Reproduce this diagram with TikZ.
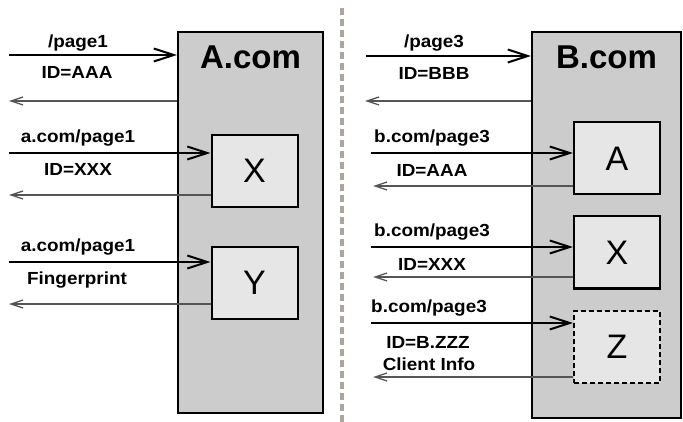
\documentclass[tikz,border=0pt]{standalone}
\usepackage{fontspec}
\setmainfont{Liberation Sans}
\usetikzlibrary{arrows.meta}
\definecolor{sitegray}{RGB}{204,204,204}
\definecolor{subgray}{RGB}{230,230,230}
\definecolor{respgray}{RGB}{85,85,85}
\definecolor{sepgray}{RGB}{172,166,158}
\newcommand{\lbltext}[1]{\scalebox{1.08}[1]{#1}}
\begin{document}
\begin{tikzpicture}[x=1pt,y=-1pt,
  site/.style={draw=black, line width=2pt, fill=sitegray, inner sep=0pt},
  sub/.style={draw=black, line width=2pt, fill=subgray, inner sep=0pt, minimum width=86pt, minimum height=72pt, font=\fontsize{34}{34}\selectfont},
  title/.style={font=\bfseries\fontsize{33}{33}\selectfont, inner sep=0pt},
  req/.style={line width=2pt, -{Straight Barb[length=20pt,width=13pt,line width=2pt]}},
  resp/.style={line width=1.3pt, draw=respgray, -{Straight Barb[length=12pt,width=8pt,line width=1.3pt]}},
  lbl/.style={font=\bfseries\fontsize{17.5}{17.5}\selectfont, inner sep=0pt},
  sepline/.style={draw=sepgray, line width=3.5pt, dash pattern=on 7pt off 4pt}
]
\useasboundingbox (0,0) rectangle (683,422);
% separator
\coordinate (septop) at (342,8);
\coordinate (sepbot) at (342,422);
\draw[sepline] (septop) -- (sepbot);

% ---------------- left: A.com ----------------
\node[site, minimum width=145pt, minimum height=381pt] (asite) at (250.5,222.5) {};
\node[title] (atitle) at (250.5,57) {A.com};
\node[sub] (ax) at (254.5,171) {X};
\node[sub] (ay) at (254.5,283) {Y};

\coordinate (l1) at (9,55);
\coordinate (l2) at (9,101);
\coordinate (l3) at (9,153);
\coordinate (l4) at (9,195);
\coordinate (l5) at (9,262);
\coordinate (l6) at (9,304);
\draw[req] (l1) -- (l1 -| asite.west);
\draw[resp] (l2 -| asite.west) -- (l2);
\draw[req] (l3) -- (l3 -| ax.west);
\draw[resp] (l4 -| ax.west) -- (l4);
\draw[req] (l5) -- (l5 -| ay.west);
\draw[resp] (l6 -| ay.west) -- (l6);

\node[lbl] (lt1) at (78,43) {\lbltext{/page1}};
\node[lbl] (lt2) at (77,72.5) {\lbltext{ID=AAA}};
\node[lbl] (lt3) at (78,138) {\lbltext{a.com/page1}};
\node[lbl] (lt4) at (78,169) {\lbltext{ID=XXX}};
\node[lbl] (lt5) at (78,247) {\lbltext{a.com/page1}};
\node[lbl] (lt6) at (77,280) {\lbltext{Fingerprint}};

% ---------------- right: B.com ----------------
\node[site, minimum width=149pt, minimum height=386pt] (bsite) at (606.5,225) {};
\node[title] (btitle) at (606.5,57) {B.com};
\node[sub] (ba) at (617,158.5) {A};
\node[sub] (bx) at (617,252.5) {X};
\node[sub, dashed, dash pattern=on 5pt off 3pt] (bz) at (617,346.5) {Z};

\coordinate (r1) at (366,56);
\coordinate (r2) at (365,101);
\coordinate (r3) at (371,153);
\coordinate (r4) at (373,186);
\coordinate (r5) at (371,247);
\coordinate (r6) at (373,277);
\coordinate (r7) at (371,323);
\coordinate (r8) at (373,377);
\draw[req] (r1) -- (r1 -| bsite.west);
\draw[resp] (r2 -| bsite.west) -- (r2);
\draw[req] (r3) -- (r3 -| ba.west);
\draw[resp] (r4 -| ba.west) -- (r4);
\draw[req] (r5) -- (r5 -| bx.west);
\draw[resp] (r6 -| bx.west) -- (r6);
\draw[req] (r7) -- (r7 -| bz.west);
\draw[resp] (r8 -| bz.west) -- (r8);

\node[lbl] (rt1) at (434,43) {\lbltext{/page3}};
\node[lbl] (rt2) at (434,73) {\lbltext{ID=BBB}};
\node[lbl] (rt3) at (432,138) {\lbltext{b.com/page3}};
\node[lbl] (rt4) at (432,170) {\lbltext{ID=AAA}};
\node[lbl] (rt5) at (432,232) {\lbltext{b.com/page3}};
\node[lbl] (rt6) at (432,264) {\lbltext{ID=XXX}};
\node[lbl] (rt7) at (429,308) {\lbltext{b.com/page3}};
\node[lbl] (rt8) at (428,342) {\lbltext{ID=B.ZZZ}};
\node[lbl] (rt9) at (429,364) {\lbltext{Client Info}};
\end{tikzpicture}
\end{document}
